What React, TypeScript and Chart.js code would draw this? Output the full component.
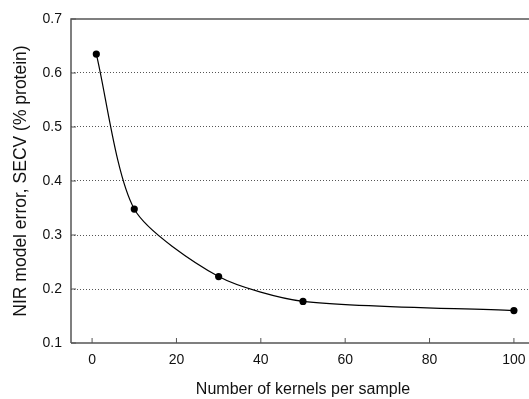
import React, { useEffect, useRef } from "react";
import { Chart, registerables } from "chart.js";

Chart.register(...registerables);

const kernels = [1, 10, 30, 50, 100];
const secv = [0.635, 0.348, 0.223, 0.177, 0.16];
const xTicks = [0, 20, 40, 60, 80, 100];
const yTicks = [0.1, 0.2, 0.3, 0.4, 0.5, 0.6, 0.7];

const FONT = "'Liberation Sans', Arial, Helvetica, sans-serif";

const frame = {
  id: "frame",
  afterDraw(chart: any) {
    const { ctx, chartArea } = chart;
    ctx.save();
    ctx.strokeStyle = "#555";
    ctx.lineWidth = 1.5;
    ctx.beginPath();
    ctx.moveTo(chartArea.left, chartArea.bottom);
    ctx.lineTo(chartArea.left, chartArea.top);
    ctx.lineTo(chartArea.right, chartArea.top);
    ctx.lineTo(chartArea.right, chartArea.bottom);
    ctx.lineTo(chartArea.left, chartArea.bottom);
    ctx.stroke();
    ctx.lineWidth = 1;
    const xs = chart.scales.x;
    const ys = chart.scales.y;
    xTicks.forEach((v) => {
      const px = xs.getPixelForValue(v);
      ctx.beginPath();
      ctx.moveTo(px, chartArea.bottom);
      ctx.lineTo(px, chartArea.bottom - 5);
      ctx.stroke();
    });
    yTicks.forEach((v) => {
      const py = ys.getPixelForValue(v);
      ctx.beginPath();
      ctx.moveTo(chartArea.left, py);
      ctx.lineTo(chartArea.left + 5, py);
      ctx.stroke();
    });
    ctx.restore();
  },
};

export default function App() {
  const ref = useRef<HTMLCanvasElement | null>(null);
  useEffect(() => {
    if (!ref.current) return;
    const chart = new Chart(ref.current, {
      type: "line",
      data: {
        datasets: [
          {
            data: kernels.map((k, i) => ({ x: k, y: secv[i] })),
            borderColor: "#000",
            borderWidth: 1.2,
            backgroundColor: "#000",
            pointRadius: 3.6,
            pointBackgroundColor: "#000",
            pointBorderWidth: 0,
            tension: 0.25,
            fill: false,
          },
        ],
      },
      plugins: [frame],
      options: {
        animation: false,
        responsive: false,
        maintainAspectRatio: false,
        layout: { padding: { left: 0, top: 19, right: 5, bottom: 0 } },
        plugins: { legend: { display: false }, tooltip: { enabled: false } },
        scales: {
          x: {
            type: "linear",
            min: -5,
            max: 105,
            afterBuildTicks: (s: any) => {
              s.ticks = xTicks.map((v) => ({ value: v }));
            },
            afterFit: (s: any) => {
              s.height = 56;
            },
            grid: { display: false, drawTicks: false },
            border: { display: false },
            ticks: {
              color: "#111",
              font: { family: FONT, size: 14 },
              padding: 9,
              maxRotation: 0,
            },
            title: {
              display: true,
              text: "Number of kernels per sample",
              color: "#111",
              font: { family: FONT, size: 16 },
              padding: { top: 0, bottom: 0 },
            },
          },
          y: {
            type: "linear",
            min: 0.1,
            max: 0.7,
            afterBuildTicks: (s: any) => {
              s.ticks = yTicks.map((v) => ({ value: v }));
            },
            afterFit: (s: any) => {
              s.width = 71;
            },
            grid: {
              display: true,
              drawTicks: false,
              color: (c: any) =>
                c.tick && (c.tick.value <= 0.1001 || c.tick.value >= 0.6999)
                  ? "rgba(0,0,0,0)"
                  : "#555",
              lineWidth: 1,
            },
            border: { display: false, dash: [1, 2] },
            ticks: {
              color: "#111",
              font: { family: FONT, size: 14 },
              padding: 9,
              callback: (v: any) => Number(v).toFixed(1),
            },
            title: {
              display: true,
              text: "NIR model error, SECV (% protein)",
              color: "#111",
              font: { family: FONT, size: 17.5 },
              padding: { top: 10.5, bottom: 0 },
            },
          },
        },
      } as any,
    });
    return () => chart.destroy();
  }, []);
  return (
    <div
      style={{
        position: "fixed",
        left: 0,
        top: 0,
        width: 529,
        height: 399,
        overflow: "hidden",
        background: "#fff",
      }}
    >
      <canvas ref={ref} width={540} height={399} style={{ display: "block" }} />
    </div>
  );
}
